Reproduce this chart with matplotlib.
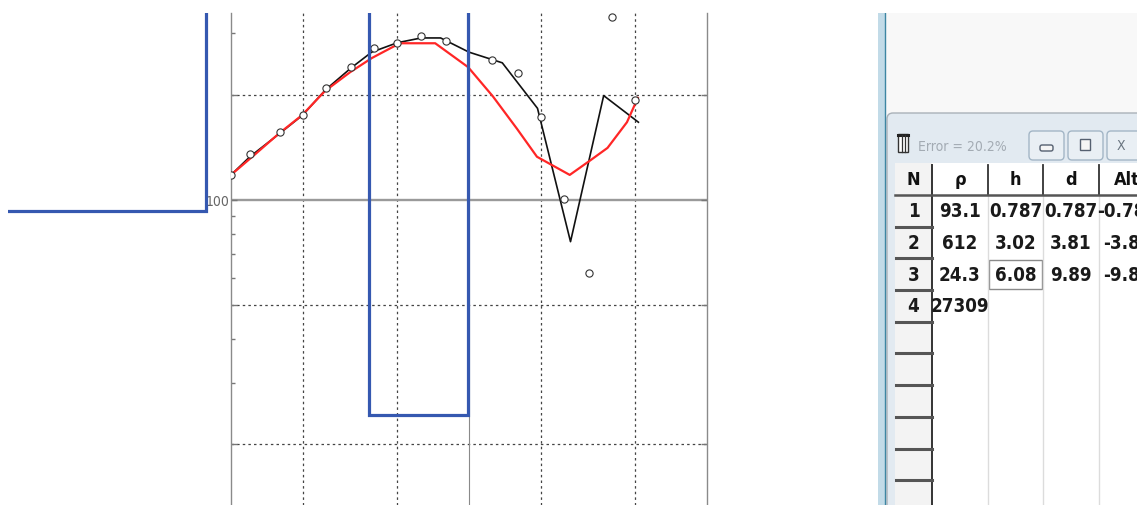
import matplotlib.pyplot as plt
from matplotlib.patches import Rectangle, FancyBboxPatch

# Field sounding: AB/2 (m) and apparent resistivity (Ohm*m)
ab2_obs = [1.0, 1.2, 1.6, 2.0, 2.5, 3.2, 4.0, 5.0, 6.3, 8.0, 12.5, 16, 20, 25, 32, 40, 50]
rho_obs = [118, 135, 157, 175, 209, 240, 273, 282, 295, 285, 252, 231, 173, 101, 62, 334, 193]

# Smoothed field curve
ab2_field = [1.0, 1.2, 1.6, 2.0, 2.5, 3.2, 3.9, 5.0, 6.3, 7.6, 10, 13.8, 19.4, 26.7, 36.8, 51.5]
rho_field = [118, 133, 155, 175, 207, 239, 265, 282, 291, 291, 265, 247, 183, 76, 199, 167]

# Theoretical curve of the model
ab2_calc = [1.0, 1.26, 1.59, 1.99, 2.48, 3.16, 3.91, 5.12, 7.21, 9.92, 12.6, 15.9, 19.3, 26.5, 32.4, 38.2, 46.1, 51.2]
rho_calc = [118, 135, 155, 175, 205, 232, 255, 281, 281, 240, 198, 160, 133, 118, 130, 141, 167, 196]

# Layered model
layer_n = [1, 2, 3, 4]
layer_rho = [93.1, 612, 24.3, 27309]
layer_h = [0.787, 3.02, 6.08]
layer_d = [0.787, 3.81, 9.89]
layer_alt = [-0.787, -3.81, -9.89]
error_pct = 20.2

W, H = 1137, 505
NARROW = ['Liberation Sans Narrow', 'DejaVu Sans']
YLIM = (13.4, 343)


def box(x0, y0, x1, y1):
    return [x0 / W, 1 - y1 / H, (x1 - x0) / W, (y1 - y0) / H]


fig = plt.figure(figsize=(W / 100, H / 100), dpi=100)

# --- sounding curves ---
ax = fig.add_axes(box(231, 13, 707, 505))
ax.set_xscale('log')
ax.set_yscale('log')
ax.set_xlim(1, 100)
ax.set_ylim(*YLIM)

dot = (0, (2, 2.5))
for xv in [2, 5, 20, 50]:
    ax.axvline(xv, color='#444444', lw=0.9, ls=dot, zorder=1)
for yv in [20, 50, 200]:
    ax.axhline(yv, color='#444444', lw=0.9, ls=dot, zorder=1)
ax.axvline(10, color='#8a8a8a', lw=0.8, zorder=1)
ax.axhline(100, color='#9a9a9a', lw=1.7, zorder=1)

ax.plot(ab2_field, rho_field, color='#111111', lw=1.2, zorder=3)
ax.plot(ab2_calc, rho_calc, color='#ff2626', lw=1.6, zorder=4)
ax.plot(ab2_obs, rho_obs, ls='none', marker='o', ms=5.2, mfc='white',
        mec='#333333', mew=0.8, zorder=5)

for side in ['top', 'bottom']:
    ax.spines[side].set_visible(False)
for side in ['left', 'right']:
    ax.spines[side].set_color('#8a8a8a')
    ax.spines[side].set_linewidth(1.0)

ax.set_xticks([])
ax.set_xticks([], minor=True)
ax.set_yticks([20, 50, 100, 200])
ax.set_yticklabels(['', '', '100', ''])
ax.set_yticks([30, 40, 60, 70, 80, 90, 300], minor=True)
ax.set_yticklabels([], minor=True)
ax.tick_params(which='major', axis='y', direction='in', length=4, width=1,
               color='#777777', left=True, right=True, pad=1,
               labelsize=10, labelcolor='#666666')
ax.tick_params(which='minor', axis='y', direction='in', length=3, width=1,
               color='#777777', left=True, right=False)
for lab in ax.get_yticklabels():
    lab.set_family(NARROW)
    lab.set_fontstretch('condensed')

# --- layered model (blue steps) ---
axm = fig.add_axes(box(8, 13, 707, 505), zorder=3)
axm.set_xscale('log')
axm.set_yscale('log')
axm.set_xlim(10 ** (-223 / 238), 100)
axm.set_ylim(*YLIM)
axm.patch.set_visible(False)
axm.axis('off')
edges = [1e-3] + layer_d + [1e5]
axm.stairs(layer_rho, edges, baseline=None, color='#3558b0', lw=2.3)

# --- model table window ---
tp = fig.add_axes(box(878, 13, 1137, 505), zorder=4)
tp.set_xlim(878, 1137)
tp.set_ylim(505, 13)
tp.axis('off')

tp.add_patch(Rectangle((878, 13), 260, 492, fc='#f8f8f8', ec='none'))
tp.add_patch(Rectangle((878, 13), 7, 492, fc='#c2dbe8', ec='none'))
tp.plot([884.5, 884.5], [13, 505], color='#3d86a3', lw=1.0)

tp.add_patch(FancyBboxPatch((887, 113), 260, 400,
                            boxstyle='round,pad=0,rounding_size=6',
                            fc='#e2eaf1', ec='#a9b1b8', lw=1.0))

# title bar icon and caption
tp.add_patch(Rectangle((898, 134), 10, 18, fc='white', ec='#333333', lw=1.0))
tp.plot([898, 908], [135.5, 135.5], color='#222222', lw=2.2)
for xi in [901.5, 904.8]:
    tp.plot([xi, xi], [135, 152], color='#333333', lw=0.9)
tp.text(918, 147, f'Error = {error_pct:g}%', fontsize=10, color='#a3abb3',
        family=NARROW, stretch='condensed', va='center', ha='left')

# window buttons
for bx in [1029, 1068, 1107]:
    tp.add_patch(FancyBboxPatch((bx, 131), 35, 29,
                                boxstyle='round,pad=0,rounding_size=4',
                                fc='#e9eff4', ec='#a3b6c6', lw=1.0))
tp.add_patch(FancyBboxPatch((1040, 145), 13, 6,
                            boxstyle='round,pad=0,rounding_size=2',
                            fc='#f5f5f5', ec='#556070', lw=1.0))
tp.add_patch(Rectangle((1080, 139), 10, 11, fc='#f5f5f5', ec='#556070', lw=1.0))
tp.text(1121, 146, 'X', fontsize=10, color='#6a7580', ha='center',
        va='center', family=NARROW, stretch='condensed')

# table body
tp.add_patch(Rectangle((895, 163), 250, 350, fc='white', ec='none'))
tp.add_patch(Rectangle((895, 163), 37, 350, fc='#f3f3f3', ec='none'))

col_x = [895, 932, 988, 1043, 1099, 1155]
col_c = [(a + b) / 2 for a, b in zip(col_x[:-1], col_x[1:])]
head_top, head_bot = 163, 195
row_h = 31.7

for xv in col_x[2:5]:
    tp.plot([xv, xv], [head_bot, 505], color='#dcdcdc', lw=1.0)
    tp.plot([xv, xv], [head_top + 2, head_bot], color='#333333', lw=1.3)
tp.plot([932, 932], [head_top + 2, 505], color='#333333', lw=1.4)
tp.plot([895, 1137], [head_bot, head_bot], color='#555555', lw=1.8)

for k in range(1, 10):
    yk = head_bot + k * row_h
    tp.plot([896, 932], [yk, yk], color='#555555', lw=2.2)

headers = ['N', 'ρ', 'h', 'd', 'Alt']
for cx, name in zip(col_c, headers):
    tp.text(cx, (head_top + head_bot) / 2 + 1, name, fontsize=13,
            weight='bold', stretch='condensed', color='#111111',
            ha='center', va='center', family=NARROW)

columns = [
    [str(n) for n in layer_n],
    [f'{v:g}' for v in layer_rho],
    [f'{v:g}' for v in layer_h],
    [f'{v:g}' for v in layer_d],
    [f'{v:g}' for v in layer_alt],
]
for cx, vals in zip(col_c, columns):
    for i, s in enumerate(vals):
        yc = head_bot + (i + 0.5) * row_h + 1
        tp.text(cx, yc, s, fontsize=13.5, weight='bold', stretch='condensed',
                color='#1a1a1a', ha='center', va='center', family=NARROW)

# edited cell frame (h of layer 3)
tp.add_patch(Rectangle((989, head_bot + 2 * row_h + 2), 53, row_h - 3,
                       fc='none', ec='#8a8a8a', lw=1.0))

fig.savefig('out.png', dpi=100)
